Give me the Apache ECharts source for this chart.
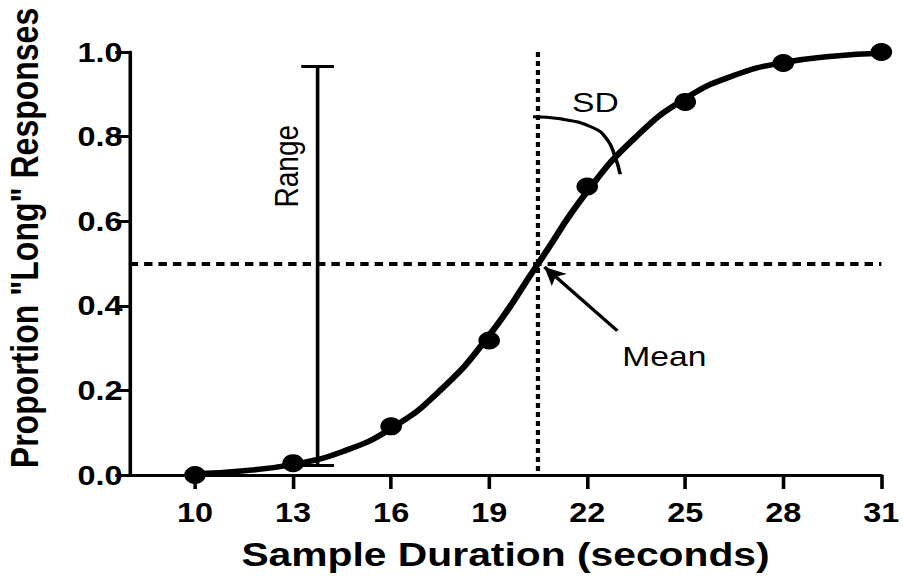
<!DOCTYPE html>
<html>
<head>
<meta charset="utf-8">
<script src="https://cdn.jsdelivr.net/npm/echarts@6/dist/echarts.min.js"></script>
<style>
  html, body { margin: 0; padding: 0; background: #fff; overflow: hidden; }
  /* the original figure is stretched ~1.2x horizontally */
  #main { width: 752px; height: 576px; transform: scaleX(1.2008); transform-origin: 0 0; }
</style>
</head>
<body>
<div id="main"></div>
<script>
// observed points
var durations = [10, 13, 16, 19, 22, 25, 28, 31];
var proportions = [0.0, 0.028, 0.115, 0.318, 0.682, 0.882, 0.974, 1.0];

// fitted curve
var curveX = [10, 11.5, 13, 14.5, 16, 17.5, 19, 20.5, 22, 23.5, 25, 26.5, 28, 29.5, 31];
var curveY = [0.003, 0.01, 0.025, 0.055, 0.11, 0.2, 0.33, 0.5, 0.67, 0.8, 0.89, 0.945, 0.975, 0.99, 0.997];

// tick labels
var xTicks = [10, 13, 16, 19, 22, 25, 28, 31];
var yTicks = [0, 0.2, 0.4, 0.6, 0.8, 1.0];

// annotations
var meanX = 20.5;
var meanY = 0.5;
var rangeX = 13.75;
var rangeLow = 0.024;
var rangeHigh = 0.967;
var sdArcX = [20.34, 21.17, 22.18, 22.61, 22.85, 23.01];
var sdArcY = [0.847, 0.842, 0.821, 0.793, 0.753, 0.711];
var meanArrow = [[22.92, 0.341], [20.69, 0.492]];

var FONT = "'Liberation Sans', Arial, sans-serif";

var chart = echarts.init(document.getElementById('main'), null, { renderer: 'svg' });

var solid = { type: 'solid', width: 3, color: '#000' };

var option = {
	animation: false,
	backgroundColor: '#fff',
	grid: { left: 108, right: 16, top: 52, bottom: 99 },
	xAxis: {
		type: 'value',
		min: 8,
		max: 31,
		name: 'Sample Duration (seconds)',
		nameLocation: 'middle',
		nameGap: 62,
		nameTextStyle: { fontFamily: FONT, fontWeight: 'bold', fontSize: 34, color: '#000' },
		splitLine: { show: false },
		axisLine: { lineStyle: { color: '#000', width: 3 } },
		axisTick: { customValues: xTicks, length: 14, lineStyle: { color: '#000', width: 3 } },
		axisLabel: {
			customValues: xTicks,
			margin: 24,
			fontFamily: FONT, fontWeight: 'bold', fontSize: 27, color: '#000'
		}
	},
	yAxis: {
		type: 'value',
		min: 0,
		max: 1,
		interval: 0.2,
		splitLine: { show: false },
		axisLine: { show: true, lineStyle: { color: '#000', width: 3 } },
		axisTick: { show: true, length: 12, lineStyle: { color: '#000', width: 3 } },
		axisLabel: {
			margin: 6,
			fontFamily: FONT, fontWeight: 'bold', fontSize: 27, color: '#000',
			formatter: function (v) { return v.toFixed(1); }
		}
	},
	graphic: [{
		type: 'text',
		x: 20,
		y: 238,
		rotation: Math.PI / 2,
		style: {
			text: 'Proportion "Long" Responses',
			font: 'bold 32px ' + FONT,
			fill: '#000',
			align: 'center',
			verticalAlign: 'middle'
		}
	}],
	series: [
		{
			// SD arc
			type: 'line',
			smooth: true,
			showSymbol: false,
			clip: false,
			lineStyle: { color: '#000', width: 3 },
			data: sdArcX.map(function (x, i) { return [x, sdArcY[i]]; })
		},
		{
			// fitted curve, with guide lines, range bar and mean arrow
			type: 'line',
			smooth: true,
			showSymbol: false,
			clip: false,
			lineStyle: { color: '#000', width: 5.5 },
			data: curveX.map(function (x, i) { return [x, curveY[i]]; }),
			markLine: {
				silent: true,
				symbol: ['none', 'none'],
				label: { show: false },
				data: [
					[{ coord: [meanX, 1], lineStyle: { type: [5, 4], width: 3.5, color: '#000' } }, { coord: [meanX, 0] }],
					[{ coord: [8, meanY], lineStyle: { type: [7, 5], width: 4, color: '#000' } }, { coord: [31, meanY] }],
					[{ coord: [rangeX, rangeLow], lineStyle: solid }, { coord: [rangeX, rangeHigh] }],
					[{ coord: [rangeX - 0.5, rangeHigh], lineStyle: solid }, { coord: [rangeX + 0.5, rangeHigh] }],
					[{ coord: [rangeX - 0.5, rangeLow], lineStyle: solid }, { coord: [rangeX + 0.5, rangeLow] }],
					[{ coord: meanArrow[0], symbol: 'none', lineStyle: solid },
					 { coord: meanArrow[1], symbol: 'arrow', symbolSize: [13, 18] }]
				]
			}
		},
		{
			type: 'scatter',
			symbolSize: 18,
			clip: false,
			itemStyle: { color: '#000', opacity: 1 },
			data: durations.map(function (x, i) { return [x, proportions[i]]; })
		},
		{
			// annotation texts
			type: 'scatter',
			symbolSize: 1,
			clip: false,
			itemStyle: { color: 'rgba(0,0,0,0)', opacity: 1 },
			label: {
				show: true,
				position: 'inside',
				fontFamily: FONT, fontSize: 28, color: '#000', opacity: 1
			},
			data: [
				{ value: [12.8, 0.73], label: { formatter: 'Range', rotate: 90 } },
				{ value: [22.25, 0.88], label: { formatter: 'SD' } },
				{ value: [24.36, 0.28], label: { formatter: 'Mean' } }
			]
		}
	]
};

chart.setOption(option);
</script>
</body>
</html>
